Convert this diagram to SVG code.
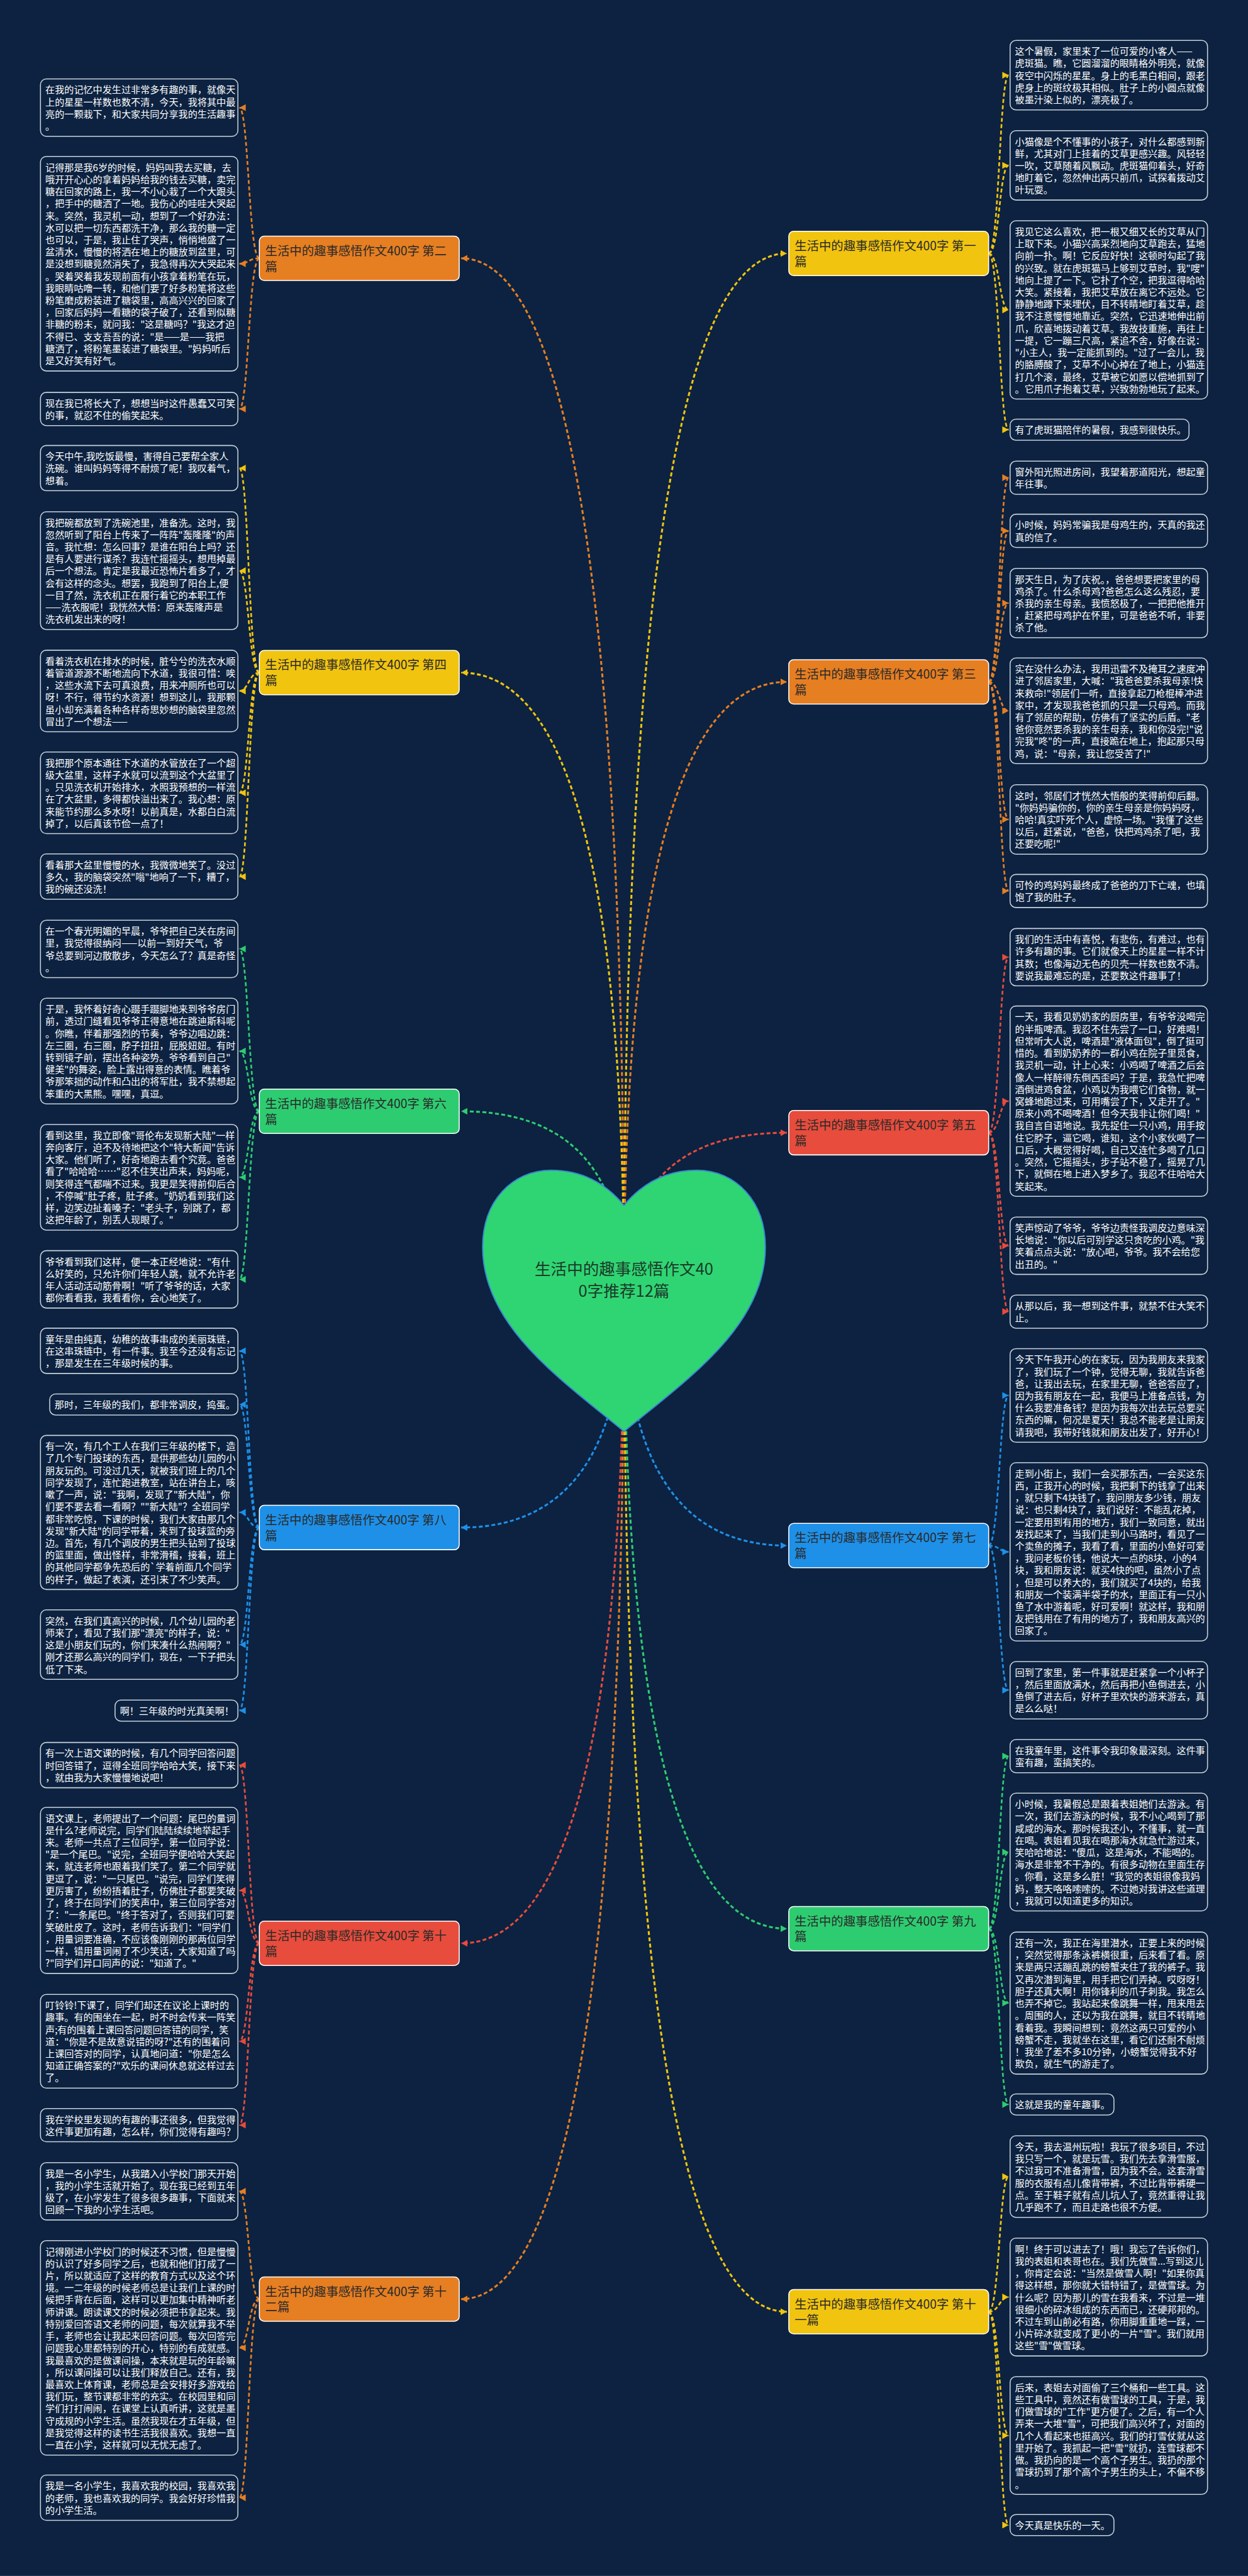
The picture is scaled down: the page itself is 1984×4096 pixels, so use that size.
<svg xmlns="http://www.w3.org/2000/svg" width="1984" height="4096" viewBox="0 0 1984 4096">
<defs>
<style>
.bg{fill:#0C2240}
.bx{fill:#0C2240;stroke:#C9D2DC;stroke-width:2}
.tx{font-family:'Noto Sans CJK SC','Noto Sans',sans-serif;font-size:19.5px;fill:#FFFFFF}
.lt{font-family:'Noto Sans CJK SC','Noto Sans',sans-serif;font-size:25px;fill:#2A2A2A}
.lr{stroke:#FFFFFF;stroke-width:2}
.c{fill:none;stroke-width:3.5;stroke-dasharray:8 5}
.h{fill:none;stroke-width:4;stroke-dasharray:8 5}
.o{stroke:#E67E22}.y{stroke:#F1C40F}.g{stroke:#2ECC71}.b{stroke:#1E90E8}.r{stroke:#E74C3C}
.fo{fill:#E67E22}.fy{fill:#F1C40F}.fg{fill:#2ECC71}.fb{fill:#1E90E8}.fr{fill:#E74C3C}
.ht{font-family:'Noto Sans CJK SC','Noto Sans',sans-serif;font-size:33px;fill:#1B3A28}
</style>
<marker id="mo" markerUnits="userSpaceOnUse" markerWidth="14" markerHeight="14" refX="13" refY="7" orient="auto"><path d="M0,0 L13,7 L0,14 z" fill="#E67E22"/></marker>
<marker id="my" markerUnits="userSpaceOnUse" markerWidth="14" markerHeight="14" refX="13" refY="7" orient="auto"><path d="M0,0 L13,7 L0,14 z" fill="#F1C40F"/></marker>
<marker id="mg" markerUnits="userSpaceOnUse" markerWidth="14" markerHeight="14" refX="13" refY="7" orient="auto"><path d="M0,0 L13,7 L0,14 z" fill="#2ECC71"/></marker>
<marker id="mb" markerUnits="userSpaceOnUse" markerWidth="14" markerHeight="14" refX="13" refY="7" orient="auto"><path d="M0,0 L13,7 L0,14 z" fill="#1E90E8"/></marker>
<marker id="mr" markerUnits="userSpaceOnUse" markerWidth="14" markerHeight="14" refX="13" refY="7" orient="auto"><path d="M0,0 L13,7 L0,14 z" fill="#E74C3C"/></marker>
</defs>
<g transform="scale(0.775)">
<rect class="bg" x="0" y="0" width="2560" height="5285"/>

<g id="connectors">
<!-- heart to labels -->
<path class="h o" marker-end="url(#mo)" d="M1280,2650 Q1280,530 946,530"/>
<path class="h y" marker-end="url(#my)" d="M1280,2650 Q1280,1380 946,1380"/>
<path class="h g" marker-end="url(#mg)" d="M1280,2650 Q1280,2280 946,2280"/>
<path class="h b" marker-end="url(#mb)" d="M1280,2650 Q1280,3134 946,3134"/>
<path class="h r" marker-end="url(#mr)" d="M1280,2650 Q1280,3987 946,3987"/>
<path class="h o" marker-end="url(#mo)" d="M1280,2650 Q1280,4717 946,4717"/>
<path class="h y" marker-end="url(#my)" d="M1280,2650 Q1280,520 1614,520"/>
<path class="h o" marker-end="url(#mo)" d="M1280,2650 Q1280,1399 1614,1399"/>
<path class="h r" marker-end="url(#mr)" d="M1280,2650 Q1280,2324 1614,2324"/>
<path class="h b" marker-end="url(#mb)" d="M1280,2650 Q1280,3171 1614,3171"/>
<path class="h g" marker-end="url(#mg)" d="M1280,2650 Q1280,3957 1614,3957"/>
<path class="h y" marker-end="url(#my)" d="M1280,2650 Q1280,4743 1614,4743"/>
<!-- left children -->
<path class="c o" marker-end="url(#mo)" d="M532,530 C510,530 510,220.9 491,220.9"/>
<path class="c o" marker-end="url(#mo)" d="M532,530 C510,530 510,541 491,541"/>
<path class="c o" marker-end="url(#mo)" d="M532,530 C510,530 510,839 491,839"/>
<path class="c y" marker-end="url(#my)" d="M532,1380 C510,1380 510,960.5 491,960.5"/>
<path class="c y" marker-end="url(#my)" d="M532,1380 C510,1380 510,1170.9 491,1170.9"/>
<path class="c y" marker-end="url(#my)" d="M532,1380 C510,1380 510,1417.7 491,1417.7"/>
<path class="c y" marker-end="url(#my)" d="M532,1380 C510,1380 510,1626.7 491,1626.7"/>
<path class="c y" marker-end="url(#my)" d="M532,1380 C510,1380 510,1798.5 491,1798.5"/>
<path class="c g" marker-end="url(#mg)" d="M532,2280 C510,2280 510,1946.9 491,1946.9"/>
<path class="c g" marker-end="url(#mg)" d="M532,2280 C510,2280 510,2156.5 491,2156.5"/>
<path class="c g" marker-end="url(#mg)" d="M532,2280 C510,2280 510,2415.5 491,2415.5"/>
<path class="c g" marker-end="url(#mg)" d="M532,2280 C510,2280 510,2624.9 491,2624.9"/>
<path class="c b" marker-end="url(#mb)" d="M532,3134 C510,3134 510,2771.5 491,2771.5"/>
<path class="c b" marker-end="url(#mb)" d="M532,3134 C510,3134 510,2881.7 491,2881.7"/>
<path class="c b" marker-end="url(#mb)" d="M532,3134 C510,3134 510,3103 491,3103"/>
<path class="c b" marker-end="url(#mb)" d="M532,3134 C510,3134 510,3374.3 491,3374.3"/>
<path class="c b" marker-end="url(#mb)" d="M532,3134 C510,3134 510,3509.7 491,3509.7"/>
<path class="c r" marker-end="url(#mr)" d="M532,3987 C510,3987 510,3621.5 491,3621.5"/>
<path class="c r" marker-end="url(#mr)" d="M532,3987 C510,3987 510,3878.5 491,3878.5"/>
<path class="c r" marker-end="url(#mr)" d="M532,3987 C510,3987 510,4188 491,4188"/>
<path class="c r" marker-end="url(#mr)" d="M532,3987 C510,3987 510,4360 491,4360"/>
<path class="c o" marker-end="url(#mo)" d="M532,4717 C510,4717 510,4495.9 491,4495.9"/>
<path class="c o" marker-end="url(#mo)" d="M532,4717 C510,4717 510,4817 491,4817"/>
<path class="c o" marker-end="url(#mo)" d="M532,4717 C510,4717 510,5124.5 491,5124.5"/>
<!-- right children -->
<path class="c y" marker-end="url(#my)" d="M2028,520 C2050,520 2050,154.3 2069,154.3"/>
<path class="c y" marker-end="url(#my)" d="M2028,520 C2050,520 2050,339.3 2069,339.3"/>
<path class="c y" marker-end="url(#my)" d="M2028,520 C2050,520 2050,635.9 2069,635.9"/>
<path class="c y" marker-end="url(#my)" d="M2028,520 C2050,520 2050,881.7 2069,881.7"/>
<path class="c o" marker-end="url(#mo)" d="M2028,1399 C2050,1399 2050,980 2069,980"/>
<path class="c o" marker-end="url(#mo)" d="M2028,1399 C2050,1399 2050,1089 2069,1089"/>
<path class="c o" marker-end="url(#mo)" d="M2028,1399 C2050,1399 2050,1237.3 2069,1237.3"/>
<path class="c o" marker-end="url(#mo)" d="M2028,1399 C2050,1399 2050,1458.5 2069,1458.5"/>
<path class="c o" marker-end="url(#mo)" d="M2028,1399 C2050,1399 2050,1681.3 2069,1681.3"/>
<path class="c o" marker-end="url(#mo)" d="M2028,1399 C2050,1399 2050,1828 2069,1828"/>
<path class="c r" marker-end="url(#mr)" d="M2028,2324 C2050,2324 2050,1963.9 2069,1963.9"/>
<path class="c r" marker-end="url(#mr)" d="M2028,2324 C2050,2324 2050,2259.3 2069,2259.3"/>
<path class="c r" marker-end="url(#mr)" d="M2028,2324 C2050,2324 2050,2555.9 2069,2555.9"/>
<path class="c r" marker-end="url(#mr)" d="M2028,2324 C2050,2324 2050,2691 2069,2691"/>
<path class="c b" marker-end="url(#mb)" d="M2028,3171 C2050,3171 2050,2863 2069,2863"/>
<path class="c b" marker-end="url(#mb)" d="M2028,3171 C2050,3171 2050,3183.9 2069,3183.9"/>
<path class="c b" marker-end="url(#mb)" d="M2028,3171 C2050,3171 2050,3467.9 2069,3467.9"/>
<path class="c g" marker-end="url(#mg)" d="M2028,3957 C2050,3957 2050,3603 2069,3603"/>
<path class="c g" marker-end="url(#mg)" d="M2028,3957 C2050,3957 2050,3799.9 2069,3799.9"/>
<path class="c g" marker-end="url(#mg)" d="M2028,3957 C2050,3957 2050,4109.6 2069,4109.6"/>
<path class="c g" marker-end="url(#mg)" d="M2028,3957 C2050,3957 2050,4317.7 2069,4317.7"/>
<path class="c y" marker-end="url(#my)" d="M2028,4743 C2050,4743 2050,4465.7 2069,4465.7"/>
<path class="c y" marker-end="url(#my)" d="M2028,4743 C2050,4743 2050,4712.9 2069,4712.9"/>
<path class="c y" marker-end="url(#my)" d="M2028,4743 C2050,4743 2050,4996.9 2069,4996.9"/>
<path class="c y" marker-end="url(#my)" d="M2028,4743 C2050,4743 2050,5180.7 2069,5180.7"/>
</g>

<g id="root">
<path d="M1280,2473 C1240,2425 1190,2401 1131,2401 C1050,2401 990,2465 990,2559 C990,2720 1150,2830 1280,2937 C1410,2830 1570,2720 1570,2559 C1570,2465 1510,2401 1429,2401 C1370,2401 1320,2425 1280,2473 Z" fill="#2FD573" stroke="#3A86D6" stroke-width="2.5"/>
<text class="ht" text-anchor="middle"><tspan x="1280" y="2615">生活中的趣事感悟作文40</tspan><tspan x="1280" y="2660">0字推荐12篇</tspan></text>
</g>

<g id="label-2"><rect class="fo lr" x="532" y="484.5" width="410" height="91" rx="10"/><text class="lt"><tspan x="544" y="523.5">生活中的趣事感悟作文400字 第二</tspan><tspan x="544" y="555.5">篇</tspan></text></g>
<g id="label-4"><rect class="fy lr" x="532" y="1334.5" width="410" height="91" rx="10"/><text class="lt"><tspan x="544" y="1373.5">生活中的趣事感悟作文400字 第四</tspan><tspan x="544" y="1405.5">篇</tspan></text></g>
<g id="label-6"><rect class="fg lr" x="532" y="2234.5" width="410" height="91" rx="10"/><text class="lt"><tspan x="544" y="2273.5">生活中的趣事感悟作文400字 第六</tspan><tspan x="544" y="2305.5">篇</tspan></text></g>
<g id="label-8"><rect class="fb lr" x="532" y="3088.5" width="410" height="91" rx="10"/><text class="lt"><tspan x="544" y="3127.5">生活中的趣事感悟作文400字 第八</tspan><tspan x="544" y="3159.5">篇</tspan></text></g>
<g id="label-10"><rect class="fr lr" x="532" y="3941.5" width="410" height="91" rx="10"/><text class="lt"><tspan x="544" y="3980.5">生活中的趣事感悟作文400字 第十</tspan><tspan x="544" y="4012.5">篇</tspan></text></g>
<g id="label-12"><rect class="fo lr" x="532" y="4671.5" width="410" height="91" rx="10"/><text class="lt"><tspan x="544" y="4710.5">生活中的趣事感悟作文400字 第十</tspan><tspan x="544" y="4742.5">二篇</tspan></text></g>
<g id="label-1"><rect class="fy lr" x="1618" y="474.5" width="410" height="91" rx="10"/><text class="lt"><tspan x="1630" y="513.5">生活中的趣事感悟作文400字 第一</tspan><tspan x="1630" y="545.5">篇</tspan></text></g>
<g id="label-3"><rect class="fo lr" x="1618" y="1353.5" width="410" height="91" rx="10"/><text class="lt"><tspan x="1630" y="1392.5">生活中的趣事感悟作文400字 第三</tspan><tspan x="1630" y="1424.5">篇</tspan></text></g>
<g id="label-5"><rect class="fr lr" x="1618" y="2278.5" width="410" height="91" rx="10"/><text class="lt"><tspan x="1630" y="2317.5">生活中的趣事感悟作文400字 第五</tspan><tspan x="1630" y="2349.5">篇</tspan></text></g>
<g id="label-7"><rect class="fb lr" x="1618" y="3125.5" width="410" height="91" rx="10"/><text class="lt"><tspan x="1630" y="3164.5">生活中的趣事感悟作文400字 第七</tspan><tspan x="1630" y="3196.5">篇</tspan></text></g>
<g id="label-9"><rect class="fg lr" x="1618" y="3911.5" width="410" height="91" rx="10"/><text class="lt"><tspan x="1630" y="3950.5">生活中的趣事感悟作文400字 第九</tspan><tspan x="1630" y="3982.5">篇</tspan></text></g>
<g id="label-11"><rect class="fy lr" x="1618" y="4697.5" width="410" height="91" rx="10"/><text class="lt"><tspan x="1630" y="4736.5">生活中的趣事感悟作文400字 第十</tspan><tspan x="1630" y="4768.5">一篇</tspan></text></g>

<g id="a1"><rect class="bx" x="83" y="162" width="405" height="117.7" rx="12"/><text class="tx" y="191.5"><tspan x="93">在我的记忆中发生过非常多有趣的事，就像天</tspan><tspan x="93" dy="24.8">上的星星一样数也数不清，今天，我将其中最</tspan><tspan x="93" dy="24.8">亮的一颗栽下，和大家共同分享我的生活趣事</tspan><tspan x="93" dy="24.8">。</tspan></text></g>
<g id="a2"><rect class="bx" x="83" y="321" width="405" height="440.1" rx="12"/><text class="tx" y="350.5"><tspan x="93">记得那是我6岁的时候，妈妈叫我去买糖，去</tspan><tspan x="93" dy="24.8">哦开开心心的拿着妈妈给我的钱去买糖，卖完</tspan><tspan x="93" dy="24.8">糖在回家的路上，我一不小心栽了一个大跟头</tspan><tspan x="93" dy="24.8">，把手中的糖洒了一地。我伤心的哇哇大哭起</tspan><tspan x="93" dy="24.8">来。突然，我灵机一动，想到了一个好办法：</tspan><tspan x="93" dy="24.8">水可以把一切东西都洗干净，那么我的糖一定</tspan><tspan x="93" dy="24.8">也可以，于是，我止住了哭声，悄悄地盛了一</tspan><tspan x="93" dy="24.8">盆清水，慢慢的将洒在地上的糖放到盆里，可</tspan><tspan x="93" dy="24.8">是没想到糖竟然消失了，我急得再次大哭起来</tspan><tspan x="93" dy="24.8">。哭着哭着我发现前面有小孩拿着粉笔在玩，</tspan><tspan x="93" dy="24.8">我眼睛咕噜一转，和他们要了好多粉笔将这些</tspan><tspan x="93" dy="24.8">粉笔磨成粉装进了糖袋里，高高兴兴的回家了</tspan><tspan x="93" dy="24.8">，回家后妈妈一看糖的袋子破了，还看到似糖</tspan><tspan x="93" dy="24.8">非糖的粉末，就问我："这是糖吗？"我这才迫</tspan><tspan x="93" dy="24.8">不得已、支支吾吾的说："是——是——我把</tspan><tspan x="93" dy="24.8">糖洒了，将粉笔墨装进了糖袋里。"妈妈听后</tspan><tspan x="93" dy="24.8">是又好笑有好气。</tspan></text></g>
<g id="a3"><rect class="bx" x="83" y="805" width="405" height="68.1" rx="12"/><text class="tx" y="834.5"><tspan x="93">现在我已将长大了，想想当时这件愚蠢又可笑</tspan><tspan x="93" dy="24.8">的事，就忍不住的偷笑起来。</tspan></text></g>
<g id="a4"><rect class="bx" x="83" y="914" width="405" height="92.9" rx="12"/><text class="tx" y="943.5"><tspan x="93">今天中午,我吃饭最慢，害得自己要帮全家人</tspan><tspan x="93" dy="24.8">洗碗。谁叫妈妈等得不耐烦了呢！我叹着气，</tspan><tspan x="93" dy="24.8">想着。</tspan></text></g>
<g id="a5"><rect class="bx" x="83" y="1050" width="405" height="241.7" rx="12"/><text class="tx" y="1079.5"><tspan x="93">我把碗都放到了洗碗池里，准备洗。这时，我</tspan><tspan x="93" dy="24.8">忽然听到了阳台上传来了一阵阵"轰隆隆"的声</tspan><tspan x="93" dy="24.8">音。我忙想：怎么回事？是谁在阳台上吗？还</tspan><tspan x="93" dy="24.8">是有人要进行谋杀？我连忙摇摇头，想甩掉最</tspan><tspan x="93" dy="24.8">后一个想法。肯定是我最近恐怖片看多了，才</tspan><tspan x="93" dy="24.8">会有这样的念头。想罢，我跑到了阳台上,便</tspan><tspan x="93" dy="24.8">一目了然，洗衣机正在履行着它的本职工作</tspan><tspan x="93" dy="24.8">——洗衣服呢！我恍然大悟：原来轰隆声是</tspan><tspan x="93" dy="24.8">洗衣机发出来的呀！</tspan></text></g>
<g id="a6"><rect class="bx" x="83" y="1334" width="405" height="167.3" rx="12"/><text class="tx" y="1363.5"><tspan x="93">看着洗衣机在排水的时候，脏兮兮的洗衣水顺</tspan><tspan x="93" dy="24.8">着管道源源不断地流向下水道，我很可惜：唉</tspan><tspan x="93" dy="24.8">，这些水流下去可真浪费，用来冲厕所也可以</tspan><tspan x="93" dy="24.8">呀！不行，得节约水资源！想到这儿，我那颗</tspan><tspan x="93" dy="24.8">虽小却充满着各种各样奇思妙想的脑袋里忽然</tspan><tspan x="93" dy="24.8">冒出了一个想法——</tspan></text></g>
<g id="a7"><rect class="bx" x="83" y="1543" width="405" height="167.3" rx="12"/><text class="tx" y="1572.5"><tspan x="93">我把那个原本通往下水道的水管放在了一个超</tspan><tspan x="93" dy="24.8">级大盆里，这样子水就可以流到这个大盆里了</tspan><tspan x="93" dy="24.8">。只见洗衣机开始排水，水照我预想的一样流</tspan><tspan x="93" dy="24.8">在了大盆里，多得都快溢出来了。我心想：原</tspan><tspan x="93" dy="24.8">来能节约那么多水呀！以前真是，水都白白流</tspan><tspan x="93" dy="24.8">掉了，以后真该节俭一点了！</tspan></text></g>
<g id="a8"><rect class="bx" x="83" y="1752" width="405" height="92.9" rx="12"/><text class="tx" y="1781.5"><tspan x="93">看着那大盆里慢慢的水，我微微地笑了。没过</tspan><tspan x="93" dy="24.8">多久，我的脑袋突然"嗡"地响了一下，糟了，</tspan><tspan x="93" dy="24.8">我的碗还没洗！</tspan></text></g>
<g id="a9"><rect class="bx" x="83" y="1888" width="405" height="117.7" rx="12"/><text class="tx" y="1917.5"><tspan x="93">在一个春光明媚的早晨，爷爷把自己关在房间</tspan><tspan x="93" dy="24.8">里，我觉得很纳闷——以前一到好天气，爷</tspan><tspan x="93" dy="24.8">爷总要到河边散散步，今天怎么了？真是奇怪</tspan><tspan x="93" dy="24.8">。</tspan></text></g>
<g id="a10"><rect class="bx" x="83" y="2048" width="405" height="216.9" rx="12"/><text class="tx" y="2077.5"><tspan x="93">于是，我怀着好奇心蹑手蹑脚地来到爷爷房门</tspan><tspan x="93" dy="24.8">前，透过门缝看见爷爷正得意地在跳迪斯科呢</tspan><tspan x="93" dy="24.8">。你瞧，伴着那强烈的节奏，爷爷边唱边跳：</tspan><tspan x="93" dy="24.8">左三圈，右三圈，脖子扭扭，屁股妞妞。有时</tspan><tspan x="93" dy="24.8">转到镜子前，摆出各种姿势。爷爷看到自己"</tspan><tspan x="93" dy="24.8">健美"的舞姿，脸上露出得意的表情。瞧着爷</tspan><tspan x="93" dy="24.8">爷那笨拙的动作和凸出的将军肚，我不禁想起</tspan><tspan x="93" dy="24.8">笨重的大黑熊。嘿嘿，真逗。</tspan></text></g>
<g id="a11"><rect class="bx" x="83" y="2307" width="405" height="216.9" rx="12"/><text class="tx" y="2336.5"><tspan x="93">看到这里，我立即像"哥伦布发现新大陆"一样</tspan><tspan x="93" dy="24.8">奔向客厅，迫不及待地把这个"特大新闻"告诉</tspan><tspan x="93" dy="24.8">大家。他们听了，好奇地跑去看个究竟。爸爸</tspan><tspan x="93" dy="24.8">看了"哈哈哈……"忍不住笑出声来，妈妈呢，</tspan><tspan x="93" dy="24.8">则笑得连气都喘不过来。我更是笑得前仰后合</tspan><tspan x="93" dy="24.8">，不停喊"肚子疼，肚子疼。"奶奶看到我们这</tspan><tspan x="93" dy="24.8">样，边笑边扯着嗓子："老头子，别跳了，都</tspan><tspan x="93" dy="24.8">这把年龄了，别丢人现眼了。"</tspan></text></g>
<g id="a12"><rect class="bx" x="83" y="2566" width="405" height="117.7" rx="12"/><text class="tx" y="2595.5"><tspan x="93">爷爷看到我们这样，便一本正经地说："有什</tspan><tspan x="93" dy="24.8">么好笑的，只允许你们年轻人跳，就不允许老</tspan><tspan x="93" dy="24.8">年人活动活动筋骨啊！"听了爷爷的话，大家</tspan><tspan x="93" dy="24.8">都你看看我，我看看你，会心地笑了。</tspan></text></g>
<g id="a13"><rect class="bx" x="83" y="2725" width="405" height="92.9" rx="12"/><text class="tx" y="2754.5"><tspan x="93">童年是由纯真，幼稚的故事串成的美丽珠链，</tspan><tspan x="93" dy="24.8">在这串珠链中，有一件事。我至今还没有忘记</tspan><tspan x="93" dy="24.8">，那是发生在三年级时候的事。</tspan></text></g>
<g id="a14"><rect class="bx" x="102" y="2860" width="386" height="43.3" rx="12"/><text class="tx" y="2889.5"><tspan x="112">那时，三年级的我们，都非常调皮，捣蛋。</tspan></text></g>
<g id="a15"><rect class="bx" x="83" y="2945" width="405" height="316.1" rx="12"/><text class="tx" y="2974.5"><tspan x="93">有一次，有几个工人在我们三年级的楼下，造</tspan><tspan x="93" dy="24.8">了几个专门投球的东西，是供那些幼儿园的小</tspan><tspan x="93" dy="24.8">朋友玩的。可没过几天，就被我们班上的几个</tspan><tspan x="93" dy="24.8">同学发现了，连忙跑进教室，站在讲台上，咳</tspan><tspan x="93" dy="24.8">嗽了一声，说："我啊，发现了"新大陆"，你</tspan><tspan x="93" dy="24.8">们要不要去看一看啊？""新大陆"？全班同学</tspan><tspan x="93" dy="24.8">都非常吃惊，下课的时候，我们大家由那几个</tspan><tspan x="93" dy="24.8">发现"新大陆"的同学带着，来到了投球篮的旁</tspan><tspan x="93" dy="24.8">边。首先，有几个调皮的男生把头钻到了投球</tspan><tspan x="93" dy="24.8">的篮里面，做出怪样，非常滑稽，接着，班上</tspan><tspan x="93" dy="24.8">的其他同学都争先恐后的`学着前面几个同学</tspan><tspan x="93" dy="24.8">的样子，做起了表演，还引来了不少笑声。</tspan></text></g>
<g id="a16"><rect class="bx" x="83" y="3303" width="405" height="142.5" rx="12"/><text class="tx" y="3332.5"><tspan x="93">突然，在我们真高兴的时候，几个幼儿园的老</tspan><tspan x="93" dy="24.8">师来了，看见了我们那"漂亮"的样子，说："</tspan><tspan x="93" dy="24.8">这是小朋友们玩的，你们来凑什么热闹啊？"</tspan><tspan x="93" dy="24.8">刚才还那么高兴的同学们，现在，一下子把头</tspan><tspan x="93" dy="24.8">低了下来。</tspan></text></g>
<g id="a17"><rect class="bx" x="236" y="3488" width="252" height="43.3" rx="12"/><text class="tx" y="3517.5"><tspan x="246">啊！三年级的时光真美啊！</tspan></text></g>
<g id="a18"><rect class="bx" x="83" y="3575" width="405" height="92.9" rx="12"/><text class="tx" y="3604.5"><tspan x="93">有一次上语文课的时候，有几个同学回答问题</tspan><tspan x="93" dy="24.8">时回答错了，逗得全班同学哈哈大笑，接下来</tspan><tspan x="93" dy="24.8">，就由我为大家慢慢地说吧！</tspan></text></g>
<g id="a19"><rect class="bx" x="83" y="3708" width="405" height="340.9" rx="12"/><text class="tx" y="3737.5"><tspan x="93">语文课上，老师提出了一个问题：尾巴的量词</tspan><tspan x="93" dy="24.8">是什么?老师说完，同学们陆陆续续地举起手</tspan><tspan x="93" dy="24.8">来。老师一共点了三位同学，第一位同学说：</tspan><tspan x="93" dy="24.8">"是一个尾巴。"说完，全班同学便哈哈大笑起</tspan><tspan x="93" dy="24.8">来，就连老师也跟着我们笑了。第二个同学就</tspan><tspan x="93" dy="24.8">更逗了，说："一只尾巴。"说完，同学们笑得</tspan><tspan x="93" dy="24.8">更厉害了，纷纷捂着肚子，仿佛肚子都要笑破</tspan><tspan x="93" dy="24.8">了，终于在同学们的笑声中，第三位同学答对</tspan><tspan x="93" dy="24.8">了："一条尾巴。"终于答对了，否则我们可要</tspan><tspan x="93" dy="24.8">笑破肚皮了。这时，老师告诉我们："同学们</tspan><tspan x="93" dy="24.8">，用量词要准确，不应该像刚刚的那两位同学</tspan><tspan x="93" dy="24.8">一样，错用量词闹了不少笑话，大家知道了吗</tspan><tspan x="93" dy="24.8">?"同学们异口同声的说："知道了。"</tspan></text></g>
<g id="a20"><rect class="bx" x="83" y="4092" width="405" height="192.1" rx="12"/><text class="tx" y="4121.5"><tspan x="93">叮铃铃!下课了，同学们却还在议论上课时的</tspan><tspan x="93" dy="24.8">趣事。有的围坐在一起，时不时会传来一阵笑</tspan><tspan x="93" dy="24.8">声;有的围着上课回答问题回答错的同学，笑</tspan><tspan x="93" dy="24.8">道："你是不是故意说错的呀?"还有的围着问</tspan><tspan x="93" dy="24.8">上课回答对的同学，认真地问道："你是怎么</tspan><tspan x="93" dy="24.8">知道正确答案的?"欢乐的课间休息就这样过去</tspan><tspan x="93" dy="24.8">了。</tspan></text></g>
<g id="a21"><rect class="bx" x="83" y="4326" width="405" height="68.1" rx="12"/><text class="tx" y="4355.5"><tspan x="93">我在学校里发现的有趣的事还很多，但我觉得</tspan><tspan x="93" dy="24.8">这件事更加有趣，怎么样，你们觉得有趣吗？</tspan></text></g>
<g id="a22"><rect class="bx" x="83" y="4437" width="405" height="117.7" rx="12"/><text class="tx" y="4466.5"><tspan x="93">我是一名小学生，从我踏入小学校门那天开始</tspan><tspan x="93" dy="24.8">，我的小学生活就开始了。现在我已经到五年</tspan><tspan x="93" dy="24.8">级了，在小学发生了很多很多趣事，下面就来</tspan><tspan x="93" dy="24.8">回顾一下我的小学生活吧。</tspan></text></g>
<g id="a23"><rect class="bx" x="83" y="4597" width="405" height="440.1" rx="12"/><text class="tx" y="4626.5"><tspan x="93">记得刚进小学校门的时候还不习惯，但是慢慢</tspan><tspan x="93" dy="24.8">的认识了好多同学之后，也就和他们打成了一</tspan><tspan x="93" dy="24.8">片，所以就适应了这样的教育方式以及这个环</tspan><tspan x="93" dy="24.8">境。一二年级的时候老师总是让我们上课的时</tspan><tspan x="93" dy="24.8">候把手背在后面，这样可以更加集中精神听老</tspan><tspan x="93" dy="24.8">师讲课。朗读课文的时候必须把书拿起来。我</tspan><tspan x="93" dy="24.8">特别爱回答语文老师的问题，每次就算我不举</tspan><tspan x="93" dy="24.8">手，老师也会让我起来回答问题。每次回答完</tspan><tspan x="93" dy="24.8">问题我心里都特别的开心，特别的有成就感。</tspan><tspan x="93" dy="24.8">我最喜欢的是做课间操，本来就是玩的年龄嘛</tspan><tspan x="93" dy="24.8">，所以课间操可以让我们释放自己。还有，我</tspan><tspan x="93" dy="24.8">最喜欢上体育课，老师总是会安排好多游戏给</tspan><tspan x="93" dy="24.8">我们玩，整节课都非常的充实。在校园里和同</tspan><tspan x="93" dy="24.8">学们打打闹闹，在课堂上认真听讲，这就是墨</tspan><tspan x="93" dy="24.8">守成规的小学生活。虽然我现在才五年级，但</tspan><tspan x="93" dy="24.8">是我觉得这样的读书生活我很喜欢。我想一直</tspan><tspan x="93" dy="24.8">一直在小学，这样就可以无忧无虑了。</tspan></text></g>
<g id="a24"><rect class="bx" x="83" y="5078" width="405" height="92.9" rx="12"/><text class="tx" y="5107.5"><tspan x="93">我是一名小学生，我喜欢我的校园，我喜欢我</tspan><tspan x="93" dy="24.8">的老师，我也喜欢我的同学。我会好好珍惜我</tspan><tspan x="93" dy="24.8">的小学生活。</tspan></text></g>

<g id="b1"><rect class="bx" x="2072" y="83" width="405" height="142.5" rx="12"/><text class="tx" y="112.5"><tspan x="2082">这个暑假，家里来了一位可爱的小客人——</tspan><tspan x="2082" dy="24.8">虎斑猫。瞧，它圆溜溜的眼睛格外明亮，就像</tspan><tspan x="2082" dy="24.8">夜空中闪烁的星星。身上的毛黑白相间，跟老</tspan><tspan x="2082" dy="24.8">虎身上的斑纹极其相似。肚子上的小圆点就像</tspan><tspan x="2082" dy="24.8">被墨汁染上似的，漂亮极了。</tspan></text></g>
<g id="b2"><rect class="bx" x="2072" y="268" width="405" height="142.5" rx="12"/><text class="tx" y="297.5"><tspan x="2082">小猫像是个不懂事的小孩子，对什么都感到新</tspan><tspan x="2082" dy="24.8">鲜，尤其对门上挂着的艾草更感兴趣。风轻轻</tspan><tspan x="2082" dy="24.8">一吹，艾草随着风飘动。虎斑猫仰着头，好奇</tspan><tspan x="2082" dy="24.8">地盯着它，忽然伸出两只前爪，试探着拨动艾</tspan><tspan x="2082" dy="24.8">叶玩耍。</tspan></text></g>
<g id="b3"><rect class="bx" x="2072" y="453" width="405" height="365.7" rx="12"/><text class="tx" y="482.5"><tspan x="2082">我见它这么喜欢，把一根又细又长的艾草从门</tspan><tspan x="2082" dy="24.8">上取下来。小猫兴高采烈地向艾草跑去，猛地</tspan><tspan x="2082" dy="24.8">向前一扑。啊！它反应好快！这顿时勾起了我</tspan><tspan x="2082" dy="24.8">的兴致。就在虎斑猫马上够到艾草时，我"嗖"</tspan><tspan x="2082" dy="24.8">地向上提了一下。它扑了个空，把我逗得哈哈</tspan><tspan x="2082" dy="24.8">大笑。紧接着，我把艾草放在离它不远处。它</tspan><tspan x="2082" dy="24.8">静静地蹲下来埋伏，目不转睛地盯着艾草，趁</tspan><tspan x="2082" dy="24.8">我不注意慢慢地靠近。突然，它迅速地伸出前</tspan><tspan x="2082" dy="24.8">爪，欣喜地拨动着艾草。我故技重施，再往上</tspan><tspan x="2082" dy="24.8">一提，它一蹦三尺高，紧追不舍，好像在说：</tspan><tspan x="2082" dy="24.8">"小主人，我一定能抓到的。"过了一会儿，我</tspan><tspan x="2082" dy="24.8">的胳膊酸了，艾草不小心掉在了地上，小猫连</tspan><tspan x="2082" dy="24.8">打几个滚，最终，艾草被它如愿以偿地抓到了</tspan><tspan x="2082" dy="24.8">。它用爪子抱着艾草，兴致勃勃地玩了起来。</tspan></text></g>
<g id="b4"><rect class="bx" x="2072" y="860" width="367" height="43.3" rx="12"/><text class="tx" y="889.5"><tspan x="2082">有了虎斑猫陪伴的暑假，我感到很快乐。</tspan></text></g>
<g id="b5"><rect class="bx" x="2072" y="946" width="405" height="68.1" rx="12"/><text class="tx" y="975.5"><tspan x="2082">窗外阳光照进房间，我望着那道阳光，想起童</tspan><tspan x="2082" dy="24.8">年往事。</tspan></text></g>
<g id="b6"><rect class="bx" x="2072" y="1055" width="405" height="68.1" rx="12"/><text class="tx" y="1084.5"><tspan x="2082">小时候，妈妈常骗我是母鸡生的，天真的我还</tspan><tspan x="2082" dy="24.8">真的信了。</tspan></text></g>
<g id="b7"><rect class="bx" x="2072" y="1166" width="405" height="142.5" rx="12"/><text class="tx" y="1195.5"><tspan x="2082">那天生日，为了庆祝。，爸爸想要把家里的母</tspan><tspan x="2082" dy="24.8">鸡杀了。什么杀母鸡?爸爸怎么这么残忍，要</tspan><tspan x="2082" dy="24.8">杀我的亲生母亲。我愤怒极了，一把把他推开</tspan><tspan x="2082" dy="24.8">，赶紧把母鸡护在怀里，可是爸爸不听，非要</tspan><tspan x="2082" dy="24.8">杀了他。</tspan></text></g>
<g id="b8"><rect class="bx" x="2072" y="1350" width="405" height="216.9" rx="12"/><text class="tx" y="1379.5"><tspan x="2082">实在没什么办法，我用迅雷不及掩耳之速度冲</tspan><tspan x="2082" dy="24.8">进了邻居家里，大喊："我爸爸要杀我母亲!快</tspan><tspan x="2082" dy="24.8">来救命!"领居们一听，直接拿起刀枪棍棒冲进</tspan><tspan x="2082" dy="24.8">家中，才发现我爸爸抓的只是一只母鸡。而我</tspan><tspan x="2082" dy="24.8">有了邻居的帮助，仿佛有了坚实的后盾。"老</tspan><tspan x="2082" dy="24.8">爸你竟然要杀我的亲生母亲，我和你没完!"说</tspan><tspan x="2082" dy="24.8">完我"咚"的一声，直接跪在地上，抱起那只母</tspan><tspan x="2082" dy="24.8">鸡，说："母亲，我让您受苦了!"</tspan></text></g>
<g id="b9"><rect class="bx" x="2072" y="1610" width="405" height="142.5" rx="12"/><text class="tx" y="1639.5"><tspan x="2082">这时，邻居们才恍然大悟般的笑得前仰后翻。</tspan><tspan x="2082" dy="24.8">"你妈妈骗你的，你的亲生母亲是你妈妈呀，</tspan><tspan x="2082" dy="24.8">哈哈!真实吓死个人，虚惊一场。"我懂了这些</tspan><tspan x="2082" dy="24.8">以后，赶紧说，"爸爸，快把鸡鸡杀了吧，我</tspan><tspan x="2082" dy="24.8">还要吃呢!"</tspan></text></g>
<g id="b10"><rect class="bx" x="2072" y="1794" width="405" height="68.1" rx="12"/><text class="tx" y="1823.5"><tspan x="2082">可怜的鸡妈妈最终成了爸爸的刀下亡魂，也填</tspan><tspan x="2082" dy="24.8">饱了我的肚子。</tspan></text></g>
<g id="b11"><rect class="bx" x="2072" y="1905" width="405" height="117.7" rx="12"/><text class="tx" y="1934.5"><tspan x="2082">我们的生活中有喜悦，有悲伤，有难过，也有</tspan><tspan x="2082" dy="24.8">许多有趣的事。它们就像天上的星星一样不计</tspan><tspan x="2082" dy="24.8">其数；也像海边无色的贝壳一样数也数不清。</tspan><tspan x="2082" dy="24.8">要说我最难忘的是，还要数这件趣事了！</tspan></text></g>
<g id="b12"><rect class="bx" x="2072" y="2064" width="405" height="390.5" rx="12"/><text class="tx" y="2093.5"><tspan x="2082">一天，我看见奶奶家的厨房里，有爷爷没喝完</tspan><tspan x="2082" dy="24.8">的半瓶啤酒。我忍不住先尝了一口，好难喝！</tspan><tspan x="2082" dy="24.8">但常听大人说，啤酒是"液体面包"，倒了挺可</tspan><tspan x="2082" dy="24.8">惜的。看到奶奶养的一群小鸡在院子里觅食，</tspan><tspan x="2082" dy="24.8">我灵机一动，计上心来：小鸡喝了啤酒之后会</tspan><tspan x="2082" dy="24.8">像人一样醉得东倒西歪吗？于是，我急忙把啤</tspan><tspan x="2082" dy="24.8">酒倒进鸡食盆，小鸡以为我喂它们食物，就一</tspan><tspan x="2082" dy="24.8">窝蜂地跑过来，可用嘴尝了下，又走开了。"</tspan><tspan x="2082" dy="24.8">原来小鸡不喝啤酒！但今天我非让你们喝！"</tspan><tspan x="2082" dy="24.8">我自言自语地说。我先捉住一只小鸡，用手按</tspan><tspan x="2082" dy="24.8">住它脖子，逼它喝，谁知，这个小家伙喝了一</tspan><tspan x="2082" dy="24.8">口后，大概觉得好喝，自己又连忙多喝了几口</tspan><tspan x="2082" dy="24.8">。突然，它摇摇头，步子站不稳了，摇晃了几</tspan><tspan x="2082" dy="24.8">下，就倒在地上进入梦乡了。我忍不住哈哈大</tspan><tspan x="2082" dy="24.8">笑起来。</tspan></text></g>
<g id="b13"><rect class="bx" x="2072" y="2497" width="405" height="117.7" rx="12"/><text class="tx" y="2526.5"><tspan x="2082">笑声惊动了爷爷，爷爷边责怪我调皮边意味深</tspan><tspan x="2082" dy="24.8">长地说："你以后可别学这只贪吃的小鸡。"我</tspan><tspan x="2082" dy="24.8">笑着点点头说："放心吧，爷爷。我不会给您</tspan><tspan x="2082" dy="24.8">出丑的。"</tspan></text></g>
<g id="b14"><rect class="bx" x="2072" y="2657" width="405" height="68.1" rx="12"/><text class="tx" y="2686.5"><tspan x="2082">从那以后，我一想到这件事，就禁不住大笑不</tspan><tspan x="2082" dy="24.8">止。</tspan></text></g>
<g id="b15"><rect class="bx" x="2072" y="2767" width="405" height="192.1" rx="12"/><text class="tx" y="2796.5"><tspan x="2082">今天下午我开心的在家玩，因为我朋友来我家</tspan><tspan x="2082" dy="24.8">了，我们玩了一个钟，觉得无聊，我就告诉爸</tspan><tspan x="2082" dy="24.8">爸，让我出去玩，在家里无聊，爸爸答应了，</tspan><tspan x="2082" dy="24.8">因为我有朋友在一起，我便马上准备点钱，为</tspan><tspan x="2082" dy="24.8">什么我要准备钱？是因为我每次出去玩总要买</tspan><tspan x="2082" dy="24.8">东西的嘛，何况是夏天！我总不能老是让朋友</tspan><tspan x="2082" dy="24.8">请我吧，我带好钱就和朋友出发了，好开心！</tspan></text></g>
<g id="b16"><rect class="bx" x="2072" y="3001" width="405" height="365.7" rx="12"/><text class="tx" y="3030.5"><tspan x="2082">走到小街上，我们一会买那东西，一会买这东</tspan><tspan x="2082" dy="24.8">西，正我开心的时候，我把剩下的钱拿了出来</tspan><tspan x="2082" dy="24.8">，就只剩下4块钱了，我问朋友多少钱，朋友</tspan><tspan x="2082" dy="24.8">说：也只剩4块了，我们说好：不能乱花掉，</tspan><tspan x="2082" dy="24.8">一定要用到有用的地方，我们一致同意，就出</tspan><tspan x="2082" dy="24.8">发找起来了，当我们走到小马路时，看见了一</tspan><tspan x="2082" dy="24.8">个卖鱼的摊子，我看了看，里面的小鱼好可爱</tspan><tspan x="2082" dy="24.8">，我问老板价钱，他说大一点的8块，小的4</tspan><tspan x="2082" dy="24.8">块，我和朋友说：就买4快的吧，虽然小了点</tspan><tspan x="2082" dy="24.8">，但是可以养大的，我们就买了4块的，给我</tspan><tspan x="2082" dy="24.8">和朋友一个装满半袋子的水，里面正有一只小</tspan><tspan x="2082" dy="24.8">鱼了水中游着呢，好可爱啊！就这样，我和朋</tspan><tspan x="2082" dy="24.8">友把钱用在了有用的地方了，我和朋友高兴的</tspan><tspan x="2082" dy="24.8">回家了。</tspan></text></g>
<g id="b17"><rect class="bx" x="2072" y="3409" width="405" height="117.7" rx="12"/><text class="tx" y="3438.5"><tspan x="2082">回到了家里，第一件事就是赶紧拿一个小杯子</tspan><tspan x="2082" dy="24.8">，然后里面放满水，然后再把小鱼倒进去，小</tspan><tspan x="2082" dy="24.8">鱼倒了进去后，好杯子里欢快的游来游去，真</tspan><tspan x="2082" dy="24.8">是么么哒！</tspan></text></g>
<g id="b18"><rect class="bx" x="2072" y="3569" width="405" height="68.1" rx="12"/><text class="tx" y="3598.5"><tspan x="2082">在我童年里，这件事令我印象最深刻。这件事</tspan><tspan x="2082" dy="24.8">蛮有趣，蛮搞笑的。</tspan></text></g>
<g id="b19"><rect class="bx" x="2072" y="3679" width="405" height="241.7" rx="12"/><text class="tx" y="3708.5"><tspan x="2082">小时候，我暑假总是跟着表姐她们去游泳。有</tspan><tspan x="2082" dy="24.8">一次，我们去游泳的时候，我不小心喝到了那</tspan><tspan x="2082" dy="24.8">咸咸的海水。那时候我还小，不懂事，就一直</tspan><tspan x="2082" dy="24.8">在喝。表姐看见我在喝那海水就急忙游过来，</tspan><tspan x="2082" dy="24.8">笑哈哈地说："傻瓜，这是海水，不能喝的。</tspan><tspan x="2082" dy="24.8">海水是非常不干净的。有很多动物在里面生存</tspan><tspan x="2082" dy="24.8">。你看，这是多么脏！"我觉的表姐很像我妈</tspan><tspan x="2082" dy="24.8">妈，整天咯咯嗦嗦的。不过她对我讲这些道理</tspan><tspan x="2082" dy="24.8">，我就可以知道更多的知识。</tspan></text></g>
<g id="b20"><rect class="bx" x="2072" y="3964" width="405" height="291.3" rx="12"/><text class="tx" y="3993.5"><tspan x="2082">还有一次，我正在海里潜水，正要上来的时候</tspan><tspan x="2082" dy="24.8">，突然觉得那条泳裤横很重，后来看了看。原</tspan><tspan x="2082" dy="24.8">来是两只活蹦乱跳的螃蟹夹住了我的裤子。我</tspan><tspan x="2082" dy="24.8">又再次潜到海里，用手把它们弄掉。哎呀呀！</tspan><tspan x="2082" dy="24.8">胆子还真大啊！用你锋利的爪子刺我。我怎么</tspan><tspan x="2082" dy="24.8">也弄不掉它。我站起来像跳舞一样，甩来甩去</tspan><tspan x="2082" dy="24.8">。周围的人，还以为我在跳舞，就目不转睛地</tspan><tspan x="2082" dy="24.8">看着我。我瞬间想到：竟然这两只可爱的小</tspan><tspan x="2082" dy="24.8">螃蟹不走，我就坐在这里，看它们还耐不耐烦</tspan><tspan x="2082" dy="24.8">！我坐了差不多10分钟，小螃蟹觉得我不好</tspan><tspan x="2082" dy="24.8">欺负，就生气的游走了。</tspan></text></g>
<g id="b21"><rect class="bx" x="2072" y="4296" width="213" height="43.3" rx="12"/><text class="tx" y="4325.5"><tspan x="2082">这就是我的童年趣事。</tspan></text></g>
<g id="b22"><rect class="bx" x="2072" y="4382" width="405" height="167.3" rx="12"/><text class="tx" y="4411.5"><tspan x="2082">今天，我去温州玩啦！我玩了很多项目，不过</tspan><tspan x="2082" dy="24.8">我只写一个，就是玩雪。我们先去拿滑雪服，</tspan><tspan x="2082" dy="24.8">不过我可不准备滑雪，因为我不会。这套滑雪</tspan><tspan x="2082" dy="24.8">服的衣服有点儿像背带裤，不过比背带裤硬一</tspan><tspan x="2082" dy="24.8">点。至于鞋子就有点儿坑人了，竟然重得让我</tspan><tspan x="2082" dy="24.8">几乎跑不了，而且走路也很不方便。</tspan></text></g>
<g id="b23"><rect class="bx" x="2072" y="4592" width="405" height="241.7" rx="12"/><text class="tx" y="4621.5"><tspan x="2082">啊！终于可以进去了！哦！我忘了告诉你们，</tspan><tspan x="2082" dy="24.8">我的表姐和表哥也在。我们先做雪...写到这儿</tspan><tspan x="2082" dy="24.8">，你肯定会说："当然是做雪人啊！"如果你真</tspan><tspan x="2082" dy="24.8">得这样想，那你就大错特错了，是做雪球。为</tspan><tspan x="2082" dy="24.8">什么呢？因为那儿的雪在我看来，不过是一堆</tspan><tspan x="2082" dy="24.8">很细小的碎冰组成的东西而已，还硬邦邦的。</tspan><tspan x="2082" dy="24.8">不过车到山前必有路，你用脚重重地一踩，一</tspan><tspan x="2082" dy="24.8">小片碎冰就变成了更小的一片"雪"。我们就用</tspan><tspan x="2082" dy="24.8">这些"雪"做雪球。</tspan></text></g>
<g id="b24"><rect class="bx" x="2072" y="4876" width="405" height="241.7" rx="12"/><text class="tx" y="4905.5"><tspan x="2082">后来，表姐去对面偷了三个桶和一些工具。这</tspan><tspan x="2082" dy="24.8">些工具中，竟然还有做雪球的工具，于是，我</tspan><tspan x="2082" dy="24.8">们做雪球的"工作"更方便了。之后，有一个人</tspan><tspan x="2082" dy="24.8">弄来一大堆"雪"，可把我们高兴坏了，对面的</tspan><tspan x="2082" dy="24.8">几个人看起来也挺高兴。我们的打雪仗就从这</tspan><tspan x="2082" dy="24.8">里开始了。我抓起一把"雪"就扔，连雪球都不</tspan><tspan x="2082" dy="24.8">做。我扔向的是一个高个子男生。我扔的那个</tspan><tspan x="2082" dy="24.8">雪球扔到了那个高个子男生的头上，不偏不移</tspan><tspan x="2082" dy="24.8">。</tspan></text></g>
<g id="b25"><rect class="bx" x="2072" y="5159" width="213" height="43.3" rx="12"/><text class="tx" y="5188.5"><tspan x="2082">今天真是快乐的一天。</tspan></text></g>
</g>
</svg>
